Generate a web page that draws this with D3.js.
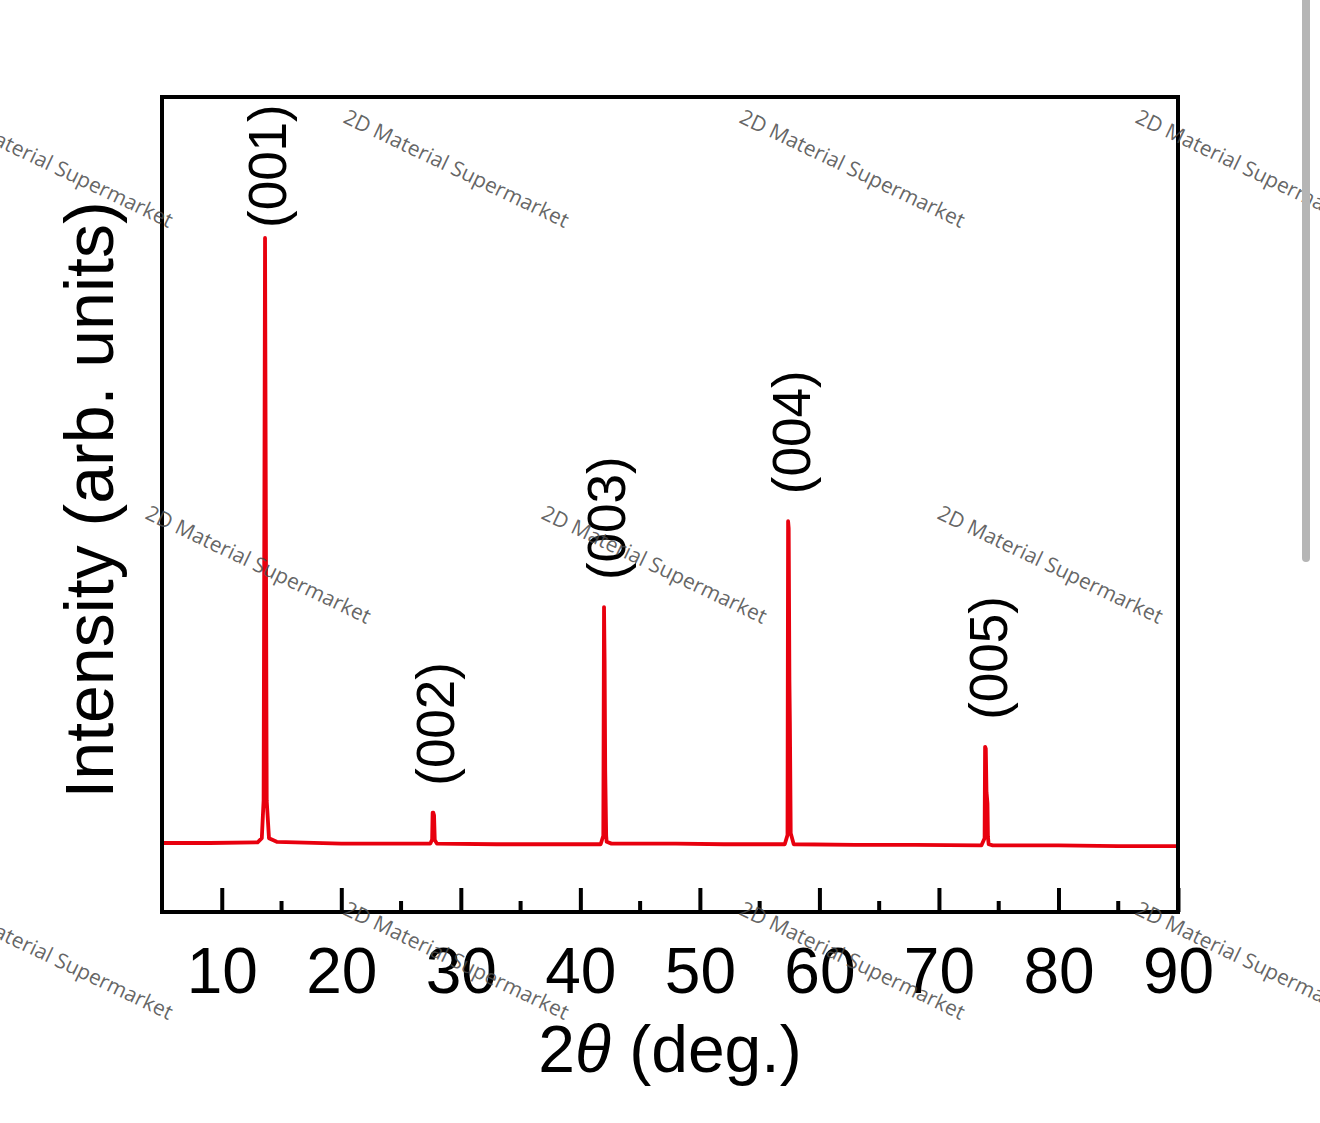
<!DOCTYPE html>
<html>
  <head>
    <meta charset="utf-8" />
    <style>
      html, body { margin: 0; padding: 0; background: #fff; }
      #container { width: 1320px; height: 1123px; }
    </style>
    <script src="https://cdn.jsdelivr.net/npm/d3@7"></script>
  </head>
  <body>
    <div id="container"></div>
    <script>
      // 2theta (deg.) vs intensity (arb. units)
      const twoTheta = [
        5, 9, 13.0, 13.35, 13.5, 13.57, 13.62, 13.68, 13.76, 13.95, 14.6, 20, 24,
        27.45, 27.6, 27.64, 27.7, 27.76, 27.82, 28.0, 33, 38,
        41.7, 41.92, 41.98, 42.03, 42.08, 42.16, 42.2, 42.6, 48, 52,
        57.1, 57.33, 57.38, 57.43, 57.49, 57.53, 57.6, 57.85, 63, 68,
        73.55, 73.82, 73.86, 73.92, 73.98, 74.0, 74.06, 74.1, 74.16, 74.5, 80, 85, 90
      ];
      const intensity = [
        0.0, 0.0, 0.1, 0.8, 7, 60, 100, 60, 7, 0.8, 0.2, -0.1, -0.1,
        -0.1, 0.6, 5.0, 5.0, 4.6, 0.5, -0.1, -0.2, -0.2,
        -0.2, 1.2, 39, 30, 12, 1.2, 0.2, -0.1, -0.1, -0.2,
        -0.2, 1.3, 53.2, 52, 27, 20, 1.6, -0.2, -0.3, -0.3,
        -0.4, 0.8, 15.9, 15.6, 8.3, 8.0, 6.5, 1.0, -0.2, -0.4, -0.4, -0.5, -0.5
      ];

      // peak labels (Miller indices) and the peaks they sit on
      const peakNames = ["(001)", "(002)", "(003)", "(004)", "(005)"];
      const peakTheta = [13.62, 27.67, 42.0, 57.42, 73.9];
      const peakHeight = [100, 5.0, 39, 53.2, 15.9];

      const xTicks = [10, 20, 30, 40, 50, 60, 70, 80, 90];
      const xMinorTicks = [15, 25, 35, 45, 55, 65, 75, 85];
      const xDomain = [5, 90];
      const yDomain = [-11.4, 123.3];

      const W = 1320, H = 1123;
      const plot = { left: 162, right: 1178, top: 97, bottom: 912 };
      const axisFont = "'Liberation Sans', Arial, Helvetica, sans-serif";

      const svg = d3
        .select("#container")
        .append("svg")
        .attr("width", W)
        .attr("height", H)
        .style("background-color", "#fff");

      const x = d3.scaleLinear().domain(xDomain).range([plot.left, plot.right]);
      const y = d3.scaleLinear().domain(yDomain).range([plot.bottom, plot.top]);

      // pattern line
      const data = twoTheta.map((t, i) => [t, intensity[i]]);
      const line = d3
        .line()
        .x((d) => x(d[0]))
        .y((d) => y(d[1]));

      svg
        .append("path")
        .attr("d", line(data))
        .attr("fill", "none")
        .attr("stroke", "#e8000e")
        .attr("stroke-width", 3.8)
        .attr("stroke-linejoin", "round");

      // bottom axis, ticks pointing inward
      const xAxis = d3
        .axisBottom(x)
        .tickValues(xTicks)
        .tickSizeInner(-24)
        .tickSizeOuter(0)
        .tickPadding(36)
        .tickFormat(d3.format("d"));

      const gx = svg
        .append("g")
        .attr("transform", `translate(0,${plot.bottom})`)
        .call(xAxis);
      gx.select(".domain").remove();
      gx.selectAll(".tick line").attr("stroke", "#000").attr("stroke-width", 4);
      gx.selectAll(".tick text")
        .attr("fill", "#000")
        .style("font-family", axisFont)
        .style("font-size", "64px");

      svg
        .append("g")
        .selectAll("line")
        .data(xMinorTicks)
        .join("line")
        .attr("x1", (d) => x(d))
        .attr("x2", (d) => x(d))
        .attr("y1", plot.bottom)
        .attr("y2", plot.bottom - 11)
        .attr("stroke", "#000")
        .attr("stroke-width", 4);

      // frame
      svg
        .append("rect")
        .attr("x", plot.left)
        .attr("y", plot.top)
        .attr("width", plot.right - plot.left)
        .attr("height", plot.bottom - plot.top)
        .attr("fill", "none")
        .attr("stroke", "#000")
        .attr("stroke-width", 4);

      // peak labels, rotated
      const labelGap = 27;
      svg
        .append("g")
        .selectAll("text")
        .data(peakNames)
        .join("text")
        .attr("transform", (d, i) => {
          const lx = x(peakTheta[i]) + 21;
          const ly = Math.max(y(peakHeight[i]) - labelGap, plot.top + 131);
          return `translate(${lx},${ly}) rotate(-90)`;
        })
        .attr("text-anchor", "start")
        .style("font-family", axisFont)
        .style("font-size", "53px")
        .attr("fill", "#000")
        .text((d) => d);

      // axis titles
      svg
        .append("text")
        .attr("transform", `translate(113,500) rotate(-90)`)
        .attr("text-anchor", "middle")
        .style("font-family", axisFont)
        .style("font-size", "68px")
        .attr("fill", "#000")
        .text("Intensity (arb. units)");

      const xt = svg
        .append("text")
        .attr("x", 670)
        .attr("y", 1072)
        .attr("text-anchor", "middle")
        .style("font-family", axisFont)
        .style("font-size", "66px")
        .attr("fill", "#000");
      xt.append("tspan").text("2");
      xt.append("tspan").style("font-style", "italic").text("θ");
      xt.append("tspan").text(" (deg.)");

      // watermark
      const wm = svg.append("g").attr("pointer-events", "none");
      const step = 396;
      for (let r = 0; r < 3; r++) {
        const shift = r % 2 === 1 ? 198 : 0;
        for (let c = -1; c < 4; c++) {
          const wx = -54 + shift + c * step;
          const wy = 122 + r * step;
          wm.append("text")
            .attr("transform", `translate(${wx},${wy}) rotate(25.5)`)
            .style("font-family", "'Open Sans', 'Noto Sans', sans-serif")
            .style("font-size", "21px")
            .attr("fill", "#4a4a4a")
            .attr("fill-opacity", 0.85)
            .text("2D Material Supermarket");
        }
      }

      // page scrollbar seen at the right edge of the screenshot
      svg
        .append("rect")
        .attr("x", 1302)
        .attr("y", -6)
        .attr("width", 8)
        .attr("height", 568)
        .attr("rx", 4)
        .attr("fill", "#b5b5b5");
    </script>
  </body>
</html>
